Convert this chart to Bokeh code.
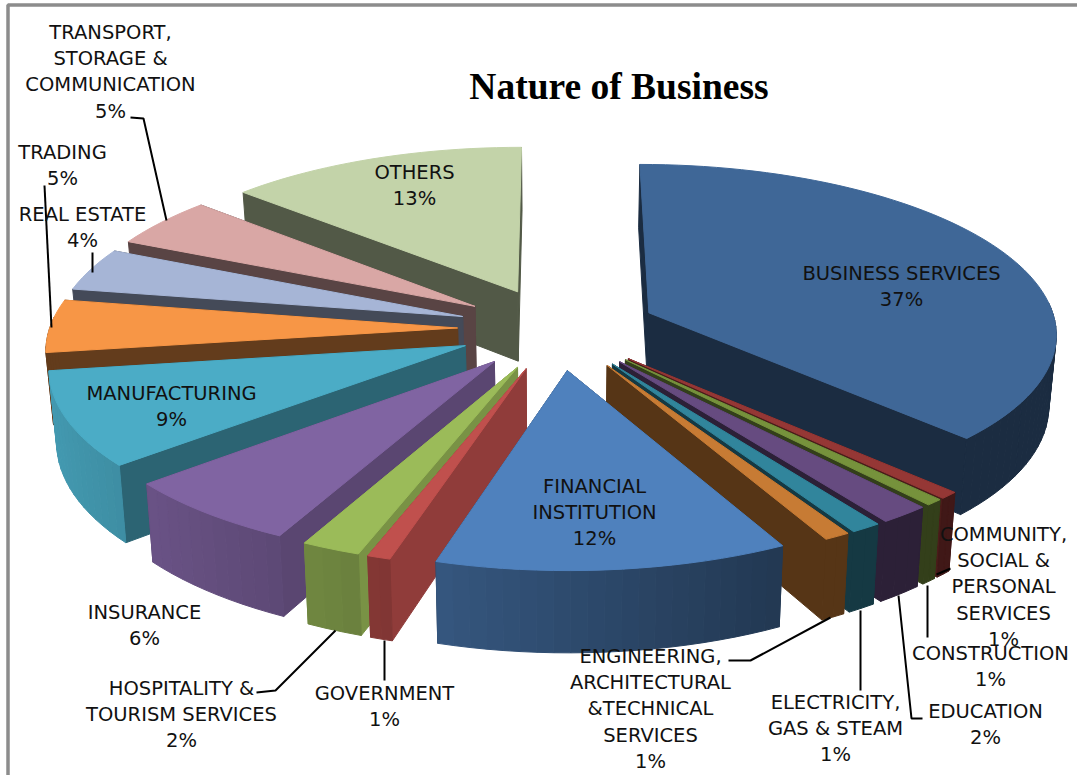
import math
from bokeh.plotting import figure
from bokeh.embed import file_html
from bokeh.resources import INLINE
from bokeh.core.properties import value
from bokeh.models import ColumnDataSource

# ---- data -----------------------------------------------------------------
categories = ["BUSINESS SERVICES", "COMMUNITY, SOCIAL & PERSONAL SERVICES", "CONSTRUCTION",
              "EDUCATION", "ELECTRICITY, GAS & STEAM", "ENGINEERING, ARCHITECTURAL &TECHNICAL SERVICES",
              "FINANCIAL INSTITUTION", "GOVERNMENT", "HOSPITALITY & TOURISM SERVICES", "INSURANCE",
              "MANUFACTURING", "TRADING", "REAL ESTATE", "TRANSPORT, STORAGE & COMMUNICATION", "OTHERS"]
shares = [37.45, 0.65, 0.6, 1.75, 1.05, 0.9, 12.15, 0.8, 2.05, 6.4, 8.9, 5.0, 4.1, 4.8, 13.4]
percent_labels = ["37%", "1%", "1%", "2%", "1%", "1%", "12%", "1%", "2%", "6%", "9%", "5%", "4%", "5%", "13%"]
title = "Nature of Business"

# ---- styles ---------------------------------------------------------------
top_colors = ["#3f6797", "#953735", "#76923c", "#664b80", "#31859c", "#c77b34", "#4f81bd", "#c0504d",
              "#9bbb59", "#8064a2", "#4bacc6", "#f79646", "#a6b5d6", "#d9a7a5", "#c3d3a9"]
inner_shade = [.43, .5, .43, .43, .43, .43, .45, .75, .78, .7, .58, .4, .41, .41, .42]
label_lines = [
    (["BUSINESS SERVICES", "37%"], 901, 273),
    (["COMMUNITY,", "SOCIAL &", "PERSONAL", "SERVICES", "1%"], 1003, 534),
    (["CONSTRUCTION", "1%"], 990, 653),
    (["EDUCATION", "2%"], 985, 711),
    (["ELECTRICITY,", "GAS & STEAM", "1%"], 835, 702),
    (["ENGINEERING,", "ARCHITECTURAL", "&TECHNICAL", "SERVICES", "1%"], 650, 656),
    (["FINANCIAL", "INSTITUTION", "12%"], 594, 486),
    (["GOVERNMENT", "1%"], 384, 693),
    (["HOSPITALITY &", "TOURISM SERVICES", "2%"], 181, 688),
    (["INSURANCE", "6%"], 144, 612),
    (["MANUFACTURING", "9%"], 171, 393),
    (["TRADING", "5%"], 62, 152),
    (["REAL ESTATE", "4%"], 82, 214),
    (["TRANSPORT,", "STORAGE &", "COMMUNICATION", "5%"], 110, 32),
    (["OTHERS", "13%"], 414, 172),
]
leaders = [
    ([130, 143, 166], [117, 118, 220]),
    ([44, 51], [185, 327]),
    ([92, 92], [252, 272]),
    ([936, 950], [574, 568]),
    ([927, 927], [585, 637]),
    ([898, 911, 922], [595, 718, 718]),
    ([860, 860], [610, 690]),
    ([830, 750, 728], [617, 660, 660]),
    ([384, 384], [640, 680]),
    ([335, 275, 256], [630, 690, 692]),
]
CX, CY, RX, RY, K, EXPLODE, DEPTH, SHRINK = 557, 328, 408, 168, .11, .245, 71, .985


def project(u, v, bottom=False):
    w = 1 + K * v
    x = CX + RX * u / w
    y = CY - RY * v / w
    if bottom:
        x = CX + (x - CX) * SHRINK
        y += DEPTH / w
    return x, y


def mix(color, f):
    c = [int(color[i:i + 2], 16) for i in (1, 3, 5)]
    return "#%02x%02x%02x" % tuple(min(255, int(round(a * f))) for a in c)


total = sum(shares)
xs, ys, fills = [], [], []


def add(poly, color):
    xs.append([q[0] for q in poly])
    ys.append([q[1] for q in poly])
    fills.append(color)


slices = []
cum = 0.0
for i, s in enumerate(shares):
    a0 = cum / total * 2 * math.pi
    cum += s
    a1 = cum / total * 2 * math.pi
    slices.append((i, a0, a1))
slices.sort(key=lambda t: -math.cos((t[1] + t[2]) / 2))

for i, a0, a1 in slices:
    mid = (a0 + a1) / 2
    ou, ov = EXPLODE * math.sin(mid), EXPLODE * math.cos(mid)
    color = top_colors[i]
    n = max(2, int((a1 - a0) / math.radians(2)))
    pts = [(ou + math.sin(a0 + (a1 - a0) * j / n), ov + math.cos(a0 + (a1 - a0) * j / n)) for j in range(n + 1)]
    # radial walls, farther one first
    for a, q in sorted([(a0, pts[0]), (a1, pts[-1])], key=lambda t: -math.cos(t[0])):
        add([project(ou, ov), project(*q), project(*q, True), project(ou, ov, True)], mix(color, inner_shade[i]))
    # outer wall, only the part that faces the viewer
    for j in range(n):
        am = a0 + (a1 - a0) * (j + .5) / n
        if math.cos(am) > 0.05:
            continue
        shade = max(.43, .58 - .32 * math.sin(am))
        if a1 > math.pi * 1.5 and math.cos(a1) > 0:
            shade = inner_shade[i]
        add([project(*pts[j]), project(*pts[j + 1]), project(*pts[j + 1], True), project(*pts[j], True)],
            mix(color, shade))
    add([project(ou, ov)] + [project(*q) for q in pts], color)

# ---- figure ---------------------------------------------------------------
p = figure(width=1077, height=775, x_range=(0, 1077), y_range=(775, 0), output_backend="svg",
           toolbar_location=None, x_axis_type=None, y_axis_type=None, min_border=0,
           outline_line_color=None, background_fill_color="white", border_fill_color="white",
           margin=(0, 0, 0, 0))
p.grid.visible = False

# frame
p.line([7.5, 7.5, 1077], [775, 4.5, 4.5], line_color="#8c8c8c", line_width=3.5)

src = ColumnDataSource(dict(xs=xs, ys=ys, fill=fills))
p.patches("xs", "ys", source=src, fill_color="fill", line_color="fill", line_width=1)

for lx, ly in leaders:
    p.line(lx, ly, line_color="black", line_width=2)

tx, ty, tt = [], [], []
for lines, x, y in label_lines:
    for j, t in enumerate(lines):
        tx.append(x)
        ty.append(y + j * 26.2)
        tt.append(t)
p.text(tx, ty, text=tt, text_font=value("DejaVu Sans"), text_font_size="19.5px", text_color="#111111",
       text_align="center", text_baseline="middle")
p.text([618.5], [86], text=[title], text_font=value("Liberation Serif"), text_font_size="37.5px",
       text_font_style="bold", text_color="black", text_align="center", text_baseline="middle")

open("out.html", "w").write(file_html(p, INLINE))
